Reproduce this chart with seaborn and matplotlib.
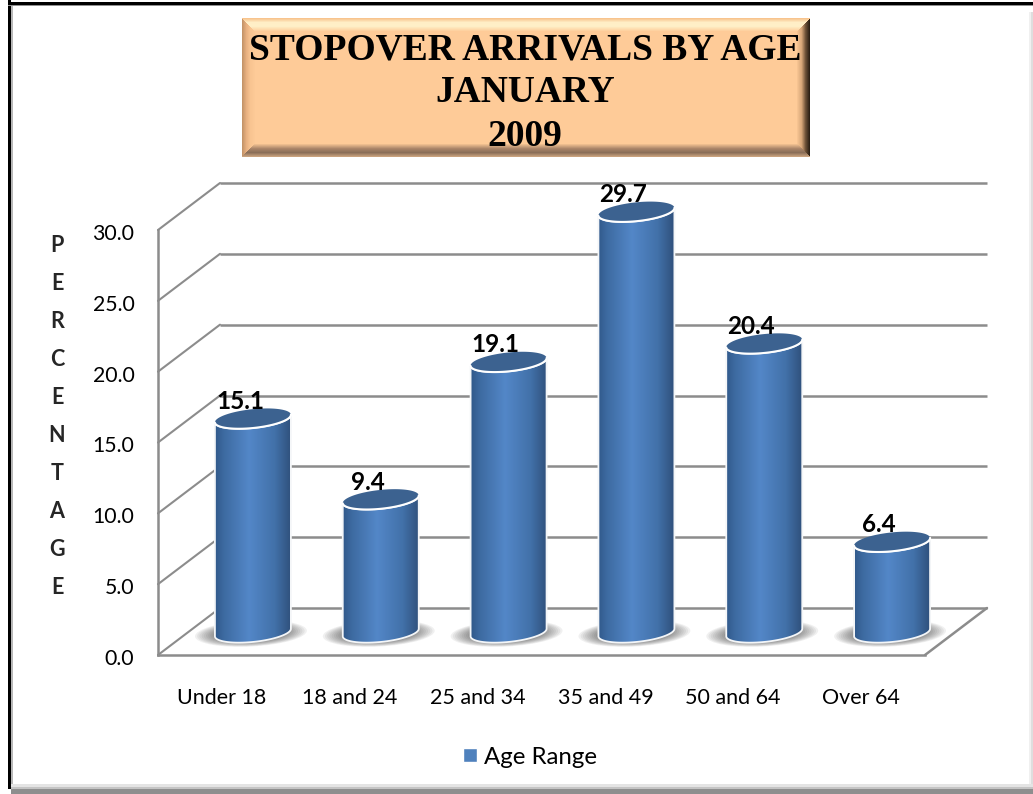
import numpy as np
import seaborn as sns
import matplotlib
matplotlib.use("Agg")
import matplotlib.pyplot as plt
from matplotlib.colors import to_rgb
from matplotlib.patches import Ellipse, PathPatch, Rectangle
from matplotlib.path import Path
from matplotlib.transforms import Affine2D, IdentityTransform

AGE_GROUPS = ["Under 18", "18 and 24", "25 and 34", "35 and 49", "50 and 64", "Over 64"]
PERCENTAGE = [15.1, 9.4, 19.1, 29.7, 20.4, 6.4]
Y_TICKS = [0, 5, 10, 15, 20, 25, 30]
TITLE = "STOPOVER ARRIVALS BY AGE\nJANUARY\n2009"
SERIES_NAME = "Age Range"

W, H = 1033, 794
BACK_DX, BACK_DY = 62, 47
TILT = np.radians(6)
RX, RY = 38.2, 9.4

sns.set_style("white")
plt.rcParams["font.family"] = ["Lato", "DejaVu Sans"]


def ellipse_xy(cx, cy, t, rx=RX, ry=RY):
    x = cx + rx * np.cos(t) * np.cos(TILT) - ry * np.sin(t) * np.sin(TILT)
    y = cy + rx * np.cos(t) * np.sin(TILT) + ry * np.sin(t) * np.cos(TILT)
    return np.column_stack([x, y])


def horizontal_ramp(stops, colors, n=160):
    u = np.linspace(0, 1, n)
    rgb = np.array([to_rgb(c) for c in colors])
    return np.dstack([np.interp(u, stops, rgb[:, k]) for k in range(3)])


def bevel_image(w, h, b=13):
    # title box: flat orange with a shaded band along each edge
    img = np.ones((h, w, 3)) * to_rgb("#fecb98")
    yy, xx = np.mgrid[0:h, 0:w]
    dist = np.dstack([yy, h - 1 - yy, xx, w - 1 - xx]).astype(float)
    side = dist.argmin(axis=2)
    d = dist.min(axis=2) / b
    ramps = [
        ["#f8c48e", "#ffeec6", "#fff0c8", "#fecb98"],
        ["#c9a27e", "#8a6e58", "#a98468", "#fecb98"],
        ["#c59468", "#e8b080", "#f8c491", "#fecb98"],
        ["#2c2014", "#6e5238", "#d6a678", "#fecb98"],
    ]
    u = [0, 0.3, 0.6, 1]
    for s, colors in enumerate(ramps):
        rgb = np.array([to_rgb(c) for c in colors])
        mask = (side == s) & (d < 1)
        for k in range(3):
            img[..., k][mask] = np.interp(d[mask], u, rgb[:, k])
    return img


fig = plt.figure(figsize=(W / 100, H / 100), dpi=100, facecolor="white")
ax = fig.add_axes([158 / W, 1 - 655 / H, 767 / W, 425 / H])
ax.set_facecolor("none")

sns.barplot(x=AGE_GROUPS, y=PERCENTAGE, color="#4f81bd", saturation=1, width=0.595,
            label=SERIES_NAME, ax=ax)
ax.set_xlim(-0.5, 5.5)
ax.set_ylim(0, 30)
ax.set_yticks(Y_TICKS, [f"{v:.1f}" for v in Y_TICKS])
ax.tick_params(axis="y", length=0, pad=17, labelsize=15.3, labelcolor="black")
ax.tick_params(axis="x", length=0, pad=23.5, labelsize=15.5, labelcolor="black")
for label in ax.get_yticklabels():
    label.set_transform(label.get_transform() + Affine2D().translate(0, -2))
ax.set_xlabel("")
ax.set_ylabel("P\nE\nR\nC\nE\nN\nT\nA\nG\nE", rotation=0, fontweight="bold",
              fontsize=15.5, linespacing=2.0, ha="center", va="center")
ax.yaxis.set_label_coords((57 - 158) / 767, (655 - 417) / 425)

sns.despine(ax=ax, top=True, right=True)
for name in ["left", "bottom"]:
    ax.spines[name].set_color("#8c8c8c")
    ax.spines[name].set_linewidth(1.8)

# back wall lines and the diagonals of the side wall and floor
back = ax.transData + Affine2D().translate(BACK_DX, BACK_DY)
ax.hlines(Y_TICKS, -0.5, 5.5, colors="#8c8c8c", linewidth=1.8, transform=back,
          clip_on=False, zorder=1)
for v in Y_TICKS:
    p = ax.transData.transform((-0.5, v))
    ax.plot([p[0], p[0] + BACK_DX], [p[1], p[1] + BACK_DY], color="#8c8c8c", linewidth=1.5,
            transform=IdentityTransform(), clip_on=False, zorder=1)
p = ax.transData.transform((5.5, 0))
ax.plot([p[0], p[0] + BACK_DX], [p[1], p[1] + BACK_DY], color="#8c8c8c", linewidth=1.8,
        transform=IdentityTransform(), clip_on=False, zorder=1)

front_offset = Affine2D().translate(BACK_DX / 2, 22.5)
ramp = horizontal_ramp([0, 0.12, 0.45, 0.78, 1],
                       ["#2f5788", "#3d6aa0", "#5387c8", "#4271a9", "#2f4f7a"])
t_low = np.linspace(np.pi, 2 * np.pi, 60)
t_all = np.linspace(0, 2 * np.pi, 120)

for bar, value in zip(ax.containers[0].patches, PERCENTAGE):
    bar.set_transform(ax.transData + front_offset)
    bar.set_zorder(3)
    cx_data = bar.get_x() + bar.get_width() / 2
    cx, cy0 = (ax.transData + front_offset).transform((cx_data, 0))
    _, cy1 = (ax.transData + front_offset).transform((cx_data, value))

    # floor shadow
    for k in range(14):
        ax.add_patch(Ellipse((cx - 2, cy0 - 1), 2 * (56 - 2.2 * k), 2 * (13 - 0.5 * k),
                             angle=np.degrees(TILT) / 2, facecolor="#303030", edgecolor="none",
                             alpha=0.07, transform=IdentityTransform(), clip_on=False, zorder=2))

    low = ellipse_xy(cx, cy0, t_low)
    up = ellipse_xy(cx, cy1, t_low)[::-1]
    verts = np.vstack([low, up, low[:1]])
    body = PathPatch(Path(verts, closed=True), facecolor="none", edgecolor="#f4f6f8", linewidth=1.3,
                     transform=IdentityTransform(), clip_on=False, zorder=3.2)
    ax.add_patch(body)
    bar.set_clip_box(fig.bbox)
    bar.set_clip_path(body)
    im = ax.imshow(ramp, extent=(cx - 39, cx + 39, cy0 - 14, cy1 + 8), aspect="auto",
                   transform=IdentityTransform(), zorder=3.1, interpolation="bilinear")
    im.set_clip_box(fig.bbox)
    im.set_clip_path(body)

    top = ellipse_xy(cx, cy1, t_all)
    ax.add_patch(PathPatch(Path(top, closed=True), facecolor="#3c6290", edgecolor="none",
                           transform=IdentityTransform(), clip_on=False, zorder=3.3))
    ax.plot(*ellipse_xy(cx, cy1, t_low).T, color="white", linewidth=1.5,
            transform=IdentityTransform(), clip_on=False, zorder=3.4)

    ax.annotate(f"{value:.1f}", xy=(cx_data, value), xytext=(18, 39.5), textcoords="offset pixels",
                ha="center", va="center", fontsize=17.5, fontweight="bold", color="black",
                annotation_clip=False, zorder=4)

ax.set_xlim(-0.5, 5.5)
ax.set_ylim(0, 30)

ax.legend(loc="center", bbox_to_anchor=(530 / W, 1 - 757 / H), bbox_transform=fig.transFigure,
          frameon=False, fontsize=17.3, handlelength=0.55, handleheight=0.55, handletextpad=0.3,
          labelcolor="black")

# title box
title_ax = fig.add_axes([242 / W, 1 - 157 / H, 568 / W, 139 / H])
title_ax.imshow(bevel_image(568, 139), aspect="auto", extent=(242, 810, 157, 18))
title_ax.text(525, 93, TITLE, ha="center", va="center", fontsize=27, fontweight="bold",
              family="Liberation Serif", linespacing=1.3, color="black")
title_ax.set_axis_off()

# outer frame of the slide
frame = [
    (8, 0, 3, H - 5, "#000000"), (11, 5, 2, H - 10, "#b8b8b8"),
    (8, 2, W - 8, 3, "#000000"), (8, 5, W - 8, 1, "#909090"),
    (1029, 12, 1.5, H - 18, "#f0f0f0"), (1030.5, 12, 2.5, H - 18, "#dedede"),
    (11, 784, W - 11, 3, "#e4e4e4"), (11, 787, W - 11, 2, "#c4c4c4"),
    (11, 789, W - 11, 5, "#8e8e8e"),
]
for x, y, w, h, c in frame:
    fig.add_artist(Rectangle((x / W, 1 - (y + h) / H), w / W, h / H, facecolor=c, edgecolor="none",
                             transform=fig.transFigure))

plt.savefig("out.png", dpi=100)
